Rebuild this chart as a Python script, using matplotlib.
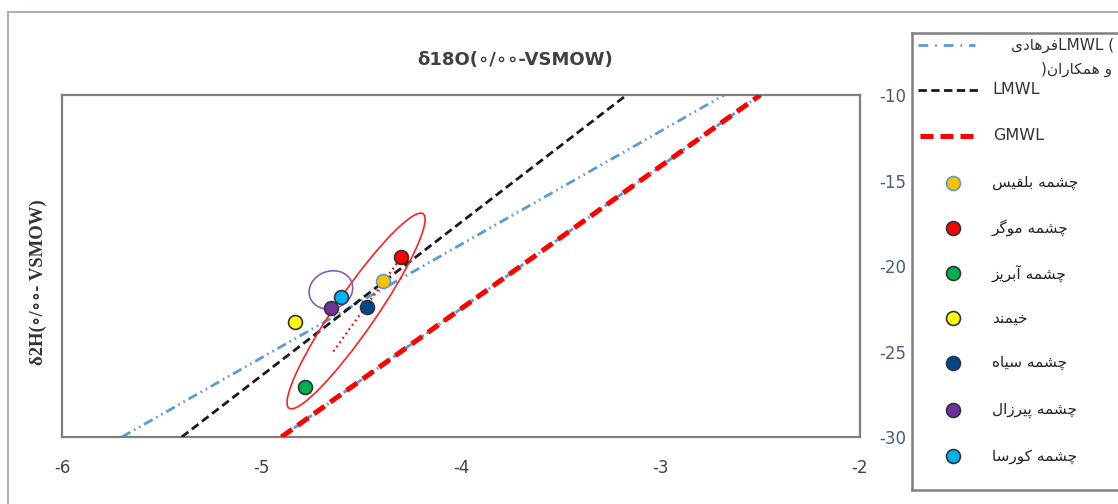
import numpy as np
import matplotlib
matplotlib.use("Agg")
import matplotlib.pyplot as plt
import matplotlib.transforms as mtransforms
from matplotlib.lines import Line2D
from matplotlib.patches import Ellipse

plt.rcParams["axes.unicode_minus"] = False

W, H = 1118, 504

# reference lines (end points)
gmwl_x = [-4.9, -2.5]
gmwl_y = [-30.0, -10.0]
lmwl_x = [-5.4, -3.17]
lmwl_y = [-30.0, -10.0]
farhadi_x = [-5.7, -2.68]
farhadi_y = [-30.0, -10.0]
trend_x = [-4.64, -4.30]
trend_y = [-25.0, -19.5]

# springs
spring_names = ["چشمه بلقیس", "چشمه موگر", "چشمه آبریز", "خیمند",
                "چشمه سیاه", "چشمه پیرزال", "چشمه کورسا"]
spring_d18o = [-4.39, -4.30, -4.78, -4.83, -4.47, -4.65, -4.60]
spring_d2h = [-20.9, -19.5, -27.1, -23.3, -22.4, -22.45, -21.8]
spring_fill = ["#FFC000", "#FF0000", "#00B050", "#FFFF00", "#00468B", "#7030A0", "#00B0F0"]
spring_edge = ["#5B9BD5", "#333333", "#333333", "#333333", "#333333", "#333333", "#333333"]

x_ticks = [-6, -5, -4, -3, -2]
y_ticks = [-30, -25, -20, -15, -10]

# --- minimal Persian shaping (presentation forms), matplotlib has no bidi ---
FORMS = {
    "ا": ("\uFE8D", "\uFE8E", None, None),
    "آ": ("\uFE81", "\uFE82", None, None),
    "د": ("\uFEA9", "\uFEAA", None, None),
    "ر": ("\uFEAD", "\uFEAE", None, None),
    "ز": ("\uFEAF", "\uFEB0", None, None),
    "و": ("\uFEED", "\uFEEE", None, None),
    "ب": ("\uFE8F", "\uFE90", "\uFE91", "\uFE92"),
    "پ": ("\uFB56", "\uFB57", "\uFB58", "\uFB59"),
    "چ": ("\uFB7A", "\uFB7B", "\uFB7C", "\uFB7D"),
    "خ": ("\uFEA5", "\uFEA6", "\uFEA7", "\uFEA8"),
    "س": ("\uFEB1", "\uFEB2", "\uFEB3", "\uFEB4"),
    "ش": ("\uFEB5", "\uFEB6", "\uFEB7", "\uFEB8"),
    "ف": ("\uFED1", "\uFED2", "\uFED3", "\uFED4"),
    "ق": ("\uFED5", "\uFED6", "\uFED7", "\uFED8"),
    "ک": ("\uFB8E", "\uFB8F", "\uFB90", "\uFB91"),
    "گ": ("\uFB92", "\uFB93", "\uFB94", "\uFB95"),
    "ل": ("\uFEDD", "\uFEDE", "\uFEDF", "\uFEE0"),
    "م": ("\uFEE1", "\uFEE2", "\uFEE3", "\uFEE4"),
    "ن": ("\uFEE5", "\uFEE6", "\uFEE7", "\uFEE8"),
    "ه": ("\uFEE9", "\uFEEA", "\uFEEB", "\uFEEC"),
    "ی": ("\uFBFC", "\uFBFD", "\uFBFE", "\uFBFF"),
}


def fa(s):
    out = []
    for i, c in enumerate(s):
        if c not in FORMS:
            out.append(c)
            continue
        f = FORMS[c]
        prev = s[i - 1] if i > 0 else None
        nxt = s[i + 1] if i < len(s) - 1 else None
        jp = prev in FORMS and FORMS[prev][2] is not None
        jn = f[2] is not None and nxt in FORMS
        if jp and jn:
            out.append(f[3])
        elif jp:
            out.append(f[1])
        elif jn:
            out.append(f[2])
        else:
            out.append(f[0])
    return "".join(out)[::-1]


def fx(p):
    return p / W


def fy(p):
    return 1 - p / H


fig = plt.figure(figsize=(W / 100, H / 100), dpi=100)
fig.patch.set_facecolor("white")
ax = fig.add_axes([fx(62), fy(437), 798 / W, 342 / H])

# lines
ax.plot(gmwl_x, gmwl_y, color="#5B9BD5", lw=2, dashes=(2.5, 1.2, 0.6, 1.2), zorder=2)
ax.plot(farhadi_x, farhadi_y, color="#5B9BD5", lw=2, dashes=(3.5, 1.5, 0.6, 1.5, 0.6, 1.5), zorder=2)
ax.plot(lmwl_x, lmwl_y, color="#1a1a1a", lw=2, dashes=(3, 1.6), zorder=3)
ax.plot(gmwl_x, gmwl_y, color="#FF0000", lw=3.6, dashes=(2.6, 1.4), zorder=3)
ax.plot(trend_x, trend_y, color="#FF0000", lw=1.6, dashes=(0.8, 1.6), zorder=3)

for xv, yv, fc, ec in zip(spring_d18o, spring_d2h, spring_fill, spring_edge):
    ax.plot(xv, yv, "o", ms=10, mfc=fc, mec=ec, mew=1.2, zorder=5)


# hand-drawn ellipses (size in points, centred on data position)
def ell(cx, cy, w, h, ang, color):
    tr = (mtransforms.Affine2D().scale(1 / 72) + fig.dpi_scale_trans
          + mtransforms.ScaledTranslation(cx, cy, ax.transData))
    ax.add_patch(Ellipse((0, 0), w, h, angle=ang, fill=False, ec=color, lw=1.2,
                         transform=tr, zorder=4))


ell(-4.526, -22.63, 170, 29, 55.4, "#FF2020")
ell(-4.652, -21.40, 32, 27, 20, "#8A5CC0")

ax.set_xlim(-6, -2)
ax.set_ylim(-30, -10)
ax.set_xticks(x_ticks)
ax.set_yticks(y_ticks)
ax.yaxis.tick_right()
ax.tick_params(axis="x", length=0, pad=16, labelsize=12, labelcolor="#404050")
ax.tick_params(axis="y", length=0, pad=14, labelsize=12, labelcolor="#4a5a7a")
for s in ax.spines.values():
    s.set_color("#7f7f7f")
    s.set_linewidth(1.6)

fig.text(fx(515), fy(60), "δ18O(∘/∘∘-VSMOW)", ha="center", va="center",
         fontsize=13, fontweight="bold", color="#404040")
fig.text(fx(38), fy(282), "δ2H(∘/∘∘- VSMOW)", ha="center", va="center", rotation=90,
         fontsize=13.5, fontweight="bold", color="#333333",
         family=["Liberation Serif", "DejaVu Serif"])

# outer chart border
fig.add_artist(Line2D([fx(8), fx(8)], [0, fy(12)], color="#aab2bf", lw=1.5, transform=fig.transFigure))
fig.add_artist(Line2D([fx(8), 1], [fy(12), fy(12)], color="#aab2bf", lw=1.5, transform=fig.transFigure))

# legend frame
for xs, ys in [([912, 912], [33, 490]), ([912, W], [33, 33]), ([912, W], [490, 490])]:
    fig.add_artist(Line2D([fx(v) for v in xs], [fy(v) for v in ys], color="#808080", lw=1.8,
                          transform=fig.transFigure))

leg_font = ["DejaVu Sans"]
# legend: Farhadi LMWL
fig.add_artist(Line2D([fx(918), fx(975)], [fy(45), fy(45)], color="#5B9BD5", lw=2,
                      dashes=(3.5, 2.5, 0.6, 2.5), transform=fig.transFigure))
fig.text(fx(1114), fy(45), fa("فرهادی") + "LMWL (", ha="right", va="center",
         fontsize=11, color="#333333", family=leg_font)
fig.text(fx(1112), fy(69), ")" + fa("و همکاران"), ha="right", va="center",
         fontsize=11, color="#333333", family=leg_font)
# LMWL
fig.add_artist(Line2D([fx(918), fx(982)], [fy(90), fy(90)], color="#1a1a1a", lw=2,
                      dashes=(3, 1.6), transform=fig.transFigure))
fig.text(fx(992), fy(90), "LMWL", ha="left", va="center", fontsize=11.5,
         color="#333333", family=leg_font)
# GMWL
fig.add_artist(Line2D([fx(920), fx(980)], [fy(136), fy(136)], color="#FF0000", lw=3.6,
                      dashes=(2.6, 1.4), transform=fig.transFigure))
fig.text(fx(993), fy(136), "GMWL", ha="left", va="center", fontsize=11.5,
         color="#333333", family=leg_font)

leg_y = [183, 228, 273, 318, 363, 410, 456]
for name, fc, ec, yp in zip(spring_names, spring_fill, spring_edge, leg_y):
    fig.add_artist(Line2D([fx(953)], [fy(yp)], marker="o", ms=10, mfc=fc, mec=ec, mew=1.2,
                          lw=0, transform=fig.transFigure))
    fig.text(fx(992), fy(yp), fa(name), ha="left", va="center", fontsize=11,
             color="#222222", family=leg_font)

fig.savefig("out.png", dpi=100)
